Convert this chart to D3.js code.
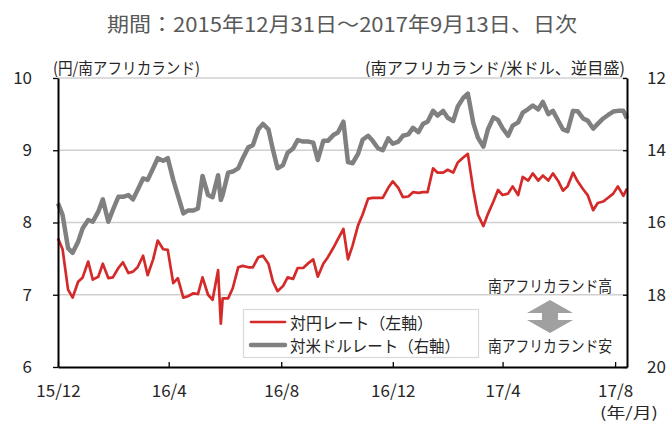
<!DOCTYPE html>
<html>
<head>
<meta charset="utf-8">
<script src="https://cdn.jsdelivr.net/npm/d3@7"></script>
<style>
  body { margin: 0; background: #fff; }
  svg { display: block; font-family: "Noto Sans CJK JP", "Noto Sans", sans-serif; }
</style>
</head>
<body>
<div id="chart"></div>
<script>
// days since 2015-12-31 for each sampled point
const dayOffsets = [
  0, 5, 11, 16, 22, 27, 33, 38, 44, 49,
  55, 60, 66, 71, 77, 82, 87, 93, 98, 104,
  109, 115, 120, 126, 131, 137, 142, 148, 153, 158,
  164, 169, 175, 178, 180, 186, 191, 197, 202, 208,
  213, 219, 224, 230, 235, 240, 246, 251, 257, 262,
  268, 273, 279, 284, 290, 295, 301, 306, 312, 317,
  322, 328, 333, 339, 344, 350, 355, 361, 366, 372,
  377, 383, 388, 394, 399, 404, 410, 415, 421, 426,
  432, 437, 443, 448, 454, 459, 465, 470, 476, 481,
  486, 492, 497, 503, 508, 514, 519, 525, 530, 536,
  541, 547, 552, 557, 563, 568, 574, 579, 585, 590,
  596, 601, 607, 612, 618, 622
];

// 円/南アフリカランド (左軸)
const jpyRate = [
  7.78, 7.63, 7.07, 6.96, 7.18, 7.24, 7.46, 7.21, 7.25, 7.43,
  7.23, 7.24, 7.37, 7.45, 7.30, 7.32, 7.38, 7.54, 7.27, 7.49,
  7.75, 7.63, 7.62, 7.16, 7.23, 6.96, 6.98, 7.02, 7.01, 7.24,
  7.00, 6.93, 7.34, 6.60, 6.95, 6.95, 7.09, 7.38, 7.40, 7.38,
  7.38, 7.52, 7.54, 7.43, 7.18, 7.05, 7.12, 7.24, 7.22, 7.37,
  7.37, 7.43, 7.49, 7.25, 7.43, 7.52, 7.65, 7.77, 7.91, 7.49,
  7.68, 7.96, 8.11, 8.33, 8.34, 8.34, 8.34, 8.48, 8.57, 8.48,
  8.35, 8.36, 8.42, 8.41, 8.42, 8.42, 8.75, 8.69, 8.69, 8.73,
  8.69, 8.83, 8.90, 8.95, 8.45, 8.11, 7.95, 8.12, 8.29, 8.45,
  8.38, 8.40, 8.50, 8.38, 8.63, 8.58, 8.68, 8.58, 8.65, 8.58,
  8.68, 8.57, 8.44, 8.50, 8.69, 8.57, 8.46, 8.38, 8.17, 8.27,
  8.29, 8.34, 8.40, 8.50, 8.37, 8.47
];

// 南アフリカランド/米ドル (右軸, 逆目盛)
const usdRate = [
  15.47, 15.79, 16.71, 16.84, 16.53, 16.16, 15.93, 15.98, 15.70, 15.36,
  15.98, 15.65, 15.29, 15.29, 15.24, 15.36, 15.10, 14.78, 14.82, 14.50,
  14.22, 14.29, 14.22, 14.82, 15.24, 15.75, 15.67, 15.67, 15.61, 14.71,
  15.24, 15.30, 14.69, 15.38, 15.24, 14.62, 14.59, 14.50, 14.22, 13.92,
  13.86, 13.42, 13.27, 13.42, 13.99, 14.50, 14.41, 14.07, 13.95, 13.72,
  13.76, 13.76, 13.79, 14.27, 13.74, 13.74, 13.58, 13.51, 13.21, 14.33,
  14.36, 14.10, 13.71, 13.60, 13.74, 13.95, 14.00, 13.67, 13.82, 13.76,
  13.60, 13.56, 13.38, 13.50, 13.27, 13.21, 12.91, 13.04, 12.91, 13.10,
  13.19, 12.79, 12.55, 12.43, 13.25, 13.65, 13.90, 13.42, 13.09, 13.16,
  13.39, 13.60, 13.32, 13.23, 12.96, 12.86, 12.76, 12.87, 12.66, 13.00,
  12.91, 13.19, 13.42, 13.47, 12.91, 12.92, 13.12, 13.18, 13.40, 13.27,
  13.12, 13.03, 12.93, 12.91, 12.91, 13.12
];

const tickDates = ["2015-12-31", "2016-04-30", "2016-08-31", "2016-12-31", "2017-04-30", "2017-08-31"];
const tickLabels = ["15/12", "16/4", "16/8", "16/12", "17/4", "17/8"];
const leftTicks = [6, 7, 8, 9, 10];
const rightTicks = [12, 14, 16, 18, 20];

const W = 669, H = 423;
const margin = { top: 78, right: 42, bottom: 56, left: 58 };
const parse = d3.timeParse("%Y-%m-%d");
const startDate = parse("2015-12-31");
const endDate = parse("2017-09-13");

const svg = d3.select("#chart").append("svg")
  .attr("width", W)
  .attr("height", H);

const x = d3.scaleTime()
  .domain([startDate, endDate])
  .range([margin.left, W - margin.right]);

const yL = d3.scaleLinear().domain([6, 10]).range([H - margin.bottom, margin.top]);
const yR = d3.scaleLinear().domain([12, 20]).range([margin.top, H - margin.bottom]);

const data = dayOffsets.map((d, i) => ({
  date: d3.timeDay.offset(startDate, d),
  jpy: jpyRate[i],
  usd: usdRate[i]
}));

// title
svg.append("text")
  .attr("x", 342).attr("y", 23)
  .attr("text-anchor", "middle")
  .attr("dominant-baseline", "central")
  .attr("font-size", 20)
  .attr("fill", "#595959")
  .attr("textLength", 470)
  .attr("lengthAdjust", "spacingAndGlyphs")
  .text("期間：2015年12月31日～2017年9月13日、日次");

// unit labels
svg.append("text")
  .attr("x", 53).attr("y", 67)
  .attr("dominant-baseline", "central")
  .attr("font-size", 16)
  .attr("fill", "#262626")
  .attr("textLength", 147)
  .attr("lengthAdjust", "spacingAndGlyphs")
  .text("(円/南アフリカランド)");

svg.append("text")
  .attr("x", 365).attr("y", 67)
  .attr("dominant-baseline", "central")
  .attr("font-size", 16)
  .attr("fill", "#262626")
  .attr("textLength", 260)
  .attr("lengthAdjust", "spacingAndGlyphs")
  .text("(南アフリカランド/米ドル、逆目盛)");

// grid
svg.append("g")
  .selectAll("line")
  .data([7, 8, 9, 10])
  .join("line")
  .attr("x1", margin.left).attr("x2", W - margin.right)
  .attr("y1", d => yL(d)).attr("y2", d => yL(d))
  .attr("stroke", "#d0d0d0")
  .attr("stroke-width", 1.3);

// lines
const lineUsd = d3.line().x(d => x(d.date)).y(d => yR(d.usd));
const lineJpy = d3.line().x(d => x(d.date)).y(d => yL(d.jpy));

svg.append("path")
  .datum(data)
  .attr("d", lineUsd)
  .attr("fill", "none")
  .attr("stroke", "#808080")
  .attr("stroke-width", 4.5)
  .attr("stroke-linejoin", "round");

svg.append("path")
  .datum(data)
  .attr("d", lineJpy)
  .attr("fill", "none")
  .attr("stroke", "#d42a2a")
  .attr("stroke-width", 2.7)
  .attr("stroke-linejoin", "round");

// axes
function styleAxis(g) {
  g.select(".domain").attr("stroke", "#000").attr("stroke-width", 2);
  g.selectAll(".tick line").attr("stroke", "#000").attr("stroke-width", 1.3);
  g.selectAll(".tick text")
    .attr("font-size", 17)
    .attr("fill", "#262626")
    .attr("font-family", "'Noto Sans CJK JP', sans-serif");
}

svg.append("g")
  .attr("transform", `translate(${margin.left},0)`)
  .call(d3.axisLeft(yL).tickValues(leftTicks).tickFormat(d3.format("d"))
    .tickSizeInner(5).tickSizeOuter(0).tickPadding(21))
  .call(styleAxis);

svg.append("g")
  .attr("transform", `translate(${W - margin.right},0)`)
  .call(d3.axisRight(yR).tickValues(rightTicks).tickFormat(d3.format("d"))
    .tickSizeInner(-4).tickSizeOuter(0).tickPadding(20))
  .call(styleAxis);

svg.append("g")
  .attr("transform", `translate(0,${H - margin.bottom})`)
  .call(d3.axisBottom(x)
    .tickValues(tickDates.map(parse))
    .tickFormat((d, i) => tickLabels[i])
    .tickSizeInner(-5).tickSizeOuter(0).tickPadding(18))
  .call(styleAxis);

svg.append("text")
  .attr("x", 658).attr("y", 411)
  .attr("text-anchor", "end")
  .attr("dominant-baseline", "central")
  .attr("font-size", 15)
  .attr("fill", "#262626")
  .attr("textLength", 58)
  .attr("lengthAdjust", "spacingAndGlyphs")
  .text("(年/月)");

// legend
const legend = svg.append("g");
legend.append("rect")
  .attr("x", 243.5).attr("y", 309.5)
  .attr("width", 235).attr("height", 48)
  .attr("fill", "#fff")
  .attr("stroke", "#d9d9d9")
  .attr("stroke-width", 1.2);

const legendItems = [
  { label: "対円レート（左軸）", color: "#d42a2a", width: 2.7, y: 322, len: 143 },
  { label: "対米ドルレート（右軸）", color: "#808080", width: 4.5, y: 345, len: 170 }
];

legendItems.forEach(item => {
  legend.append("line")
    .attr("x1", 251).attr("x2", 285)
    .attr("y1", item.y).attr("y2", item.y)
    .attr("stroke", item.color)
    .attr("stroke-width", item.width)
    .attr("stroke-linecap", "round");
  legend.append("text")
    .attr("x", 290).attr("y", item.y)
    .attr("dominant-baseline", "central")
    .attr("font-size", 16)
    .attr("fill", "#262626")
    .attr("textLength", item.len)
    .attr("lengthAdjust", "spacingAndGlyphs")
    .text(item.label);
});

// annotation: 高 / 安 with double arrow
const note = svg.append("g");
note.append("text")
  .attr("x", 550).attr("y", 285)
  .attr("text-anchor", "middle")
  .attr("dominant-baseline", "central")
  .attr("font-size", 15.5)
  .attr("fill", "#262626")
  .attr("textLength", 124)
  .attr("lengthAdjust", "spacingAndGlyphs")
  .text("南アフリカランド高");

note.append("text")
  .attr("x", 550).attr("y", 345)
  .attr("text-anchor", "middle")
  .attr("dominant-baseline", "central")
  .attr("font-size", 15.5)
  .attr("fill", "#262626")
  .attr("textLength", 124)
  .attr("lengthAdjust", "spacingAndGlyphs")
  .text("南アフリカランド安");

note.append("path")
  .attr("d", "M550,300 L573,313 L558,313 L558,320 L573,320 L550,333 L527,320 L542,320 L542,313 L527,313 Z")
  .attr("fill", "#a0a0a0");
</script>
</body>
</html>
